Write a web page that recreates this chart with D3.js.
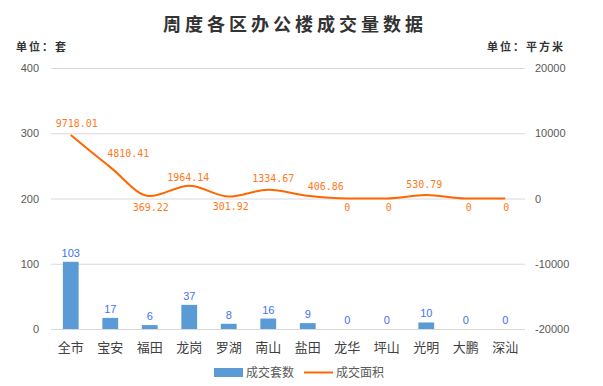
<!DOCTYPE html>
<html>
<head>
<meta charset="utf-8">
<script src="https://cdn.jsdelivr.net/npm/d3@7"></script>
<style>
    body { margin: 0; background: #fff; }
    svg { display: block; }
</style>
</head>
<body>
<svg id="chart" width="603" height="386"></svg>
<script>
const districts = ['全市', '宝安', '福田', '龙岗', '罗湖', '南山', '盐田', '龙华', '坪山', '光明', '大鹏', '深汕']
const units = [103, 17, 6, 37, 8, 16, 9, 0, 0, 10, 0, 0]
const area = [9718.01, 4810.41, 369.22, 1964.14, 301.92, 1334.67, 406.86, 0, 0, 530.79, 0, 0]
const leftTicks = [0, 100, 200, 300, 400]
const rightTicks = [-20000, -10000, 0, 10000, 20000]

// hand-placed label offsets, as in the source chart
const areaLabelOffsets = [[6, -12], [18, -14], [1, 11], [-1, -8], [2, 10], [5, -11],
    [18, -9], [0, 9], [2, 9], [-2, -11], [3, 9], [1, 9]]

const svg = d3.select('#chart')
const plot = {left: 51, right: 525, top: 68, bottom: 329}

const x = d3.scaleBand()
    .domain(districts)
    .range([plot.left, plot.right])
    .paddingInner(0.6)
    .paddingOuter(0.3)
const yLeft = d3.scaleLinear().domain([0, 400]).range([plot.bottom, plot.top])
const yRight = d3.scaleLinear().domain([-20000, 20000]).range([plot.bottom, plot.top])

// title + units
svg.append('text')
    .attr('x', 295).attr('y', 31)
    .attr('text-anchor', 'middle')
    .style('font-family', '"Noto Sans CJK SC", sans-serif')
    .style('font-weight', 'bold')
    .style('font-size', '18px')
    .style('letter-spacing', '4px')
    .style('fill', '#333')
    .text('周度各区办公楼成交量数据')

svg.append('text')
    .attr('x', 16).attr('y', 51)
    .style('font-family', '"Noto Sans CJK SC", sans-serif')
    .style('font-weight', 'bold')
    .style('font-size', '11px')
    .style('letter-spacing', '2px')
    .style('fill', '#333')
    .text('单位：套')

svg.append('text')
    .attr('x', 487).attr('y', 51)
    .style('font-family', '"Noto Sans CJK SC", sans-serif')
    .style('font-weight', 'bold')
    .style('font-size', '11px')
    .style('letter-spacing', '2px')
    .style('fill', '#333')
    .text('单位：平方米')

// gridlines
svg.append('g')
    .selectAll('line')
    .data(leftTicks)
    .enter()
    .append('line')
    .attr('x1', plot.left).attr('x2', plot.right)
    .attr('y1', d => yLeft(d) + 0.5).attr('y2', d => yLeft(d) + 0.5)
    .attr('stroke', '#d9d9d9')
    .attr('stroke-width', 1)

// axes
const axisFont = g => {
    g.select('.domain').remove()
    g.selectAll('text')
        .style('font-family', '"Liberation Sans", Arial, sans-serif')
        .style('font-size', '11px')
        .style('fill', '#595959')
}

svg.append('g')
    .attr('transform', `translate(${plot.left - 8},0)`)
    .call(d3.axisLeft(yLeft).tickValues(leftTicks).tickSize(0).tickPadding(4))
    .call(axisFont)

svg.append('g')
    .attr('transform', `translate(${plot.right + 6},0)`)
    .call(d3.axisRight(yRight).tickValues(rightTicks).tickSize(0).tickPadding(4)
        .tickFormat(d => String(d)))
    .call(axisFont)

svg.append('g')
    .selectAll('text')
    .data(districts)
    .enter()
    .append('text')
    .attr('x', d => x(d) + x.bandwidth() / 2)
    .attr('y', 352)
    .attr('text-anchor', 'middle')
    .style('font-family', '"Noto Sans CJK SC", sans-serif')
    .style('font-size', '13px')
    .style('fill', '#404040')
    .text(d => d)

// bars
svg.append('g')
    .selectAll('rect')
    .data(units)
    .enter()
    .append('rect')
    .attr('x', (d, i) => x(districts[i]))
    .attr('y', d => yLeft(d))
    .attr('width', x.bandwidth())
    .attr('height', d => yLeft(0) - yLeft(d))
    .attr('fill', '#5b9bd5')

svg.append('g')
    .selectAll('text')
    .data(units)
    .enter()
    .append('text')
    .attr('x', (d, i) => x(districts[i]) + x.bandwidth() / 2)
    .attr('y', d => yLeft(d) - 5)
    .attr('text-anchor', 'middle')
    .style('font-family', '"Liberation Sans", Arial, sans-serif')
    .style('font-size', '11px')
    .style('fill', '#4472f0')
    .text(d => d)

// area line
const cx = i => x(districts[i]) + x.bandwidth() / 2
const line = d3.line()
    .x((d, i) => cx(i))
    .y(d => yRight(d))
    .curve(d3.curveMonotoneX)

svg.append('path')
    .datum(area)
    .attr('d', line)
    .attr('fill', 'none')
    .attr('stroke', '#ff6600')
    .attr('stroke-width', 2)

svg.append('g')
    .selectAll('text')
    .data(area)
    .enter()
    .append('text')
    .attr('x', (d, i) => cx(i) + areaLabelOffsets[i][0])
    .attr('y', (d, i) => yRight(d) + areaLabelOffsets[i][1])
    .attr('dy', '0.35em')
    .attr('text-anchor', 'middle')
    .style('font-family', '"DejaVu Sans Mono", monospace')
    .style('font-size', '10px')
    .style('fill', '#ff7a1a')
    .text(d => d === 0 ? '0' : d.toFixed(2))

// legend
const legend = svg.append('g')
    .style('font-family', '"Noto Sans CJK SC", sans-serif')
    .style('font-size', '12px')
    .style('fill', '#595959')

legend.append('rect')
    .attr('x', 214).attr('y', 368)
    .attr('width', 29).attr('height', 9)
    .attr('fill', '#5b9bd5')
legend.append('text')
    .attr('x', 246).attr('y', 377)
    .text('成交套数')
legend.append('line')
    .attr('x1', 304).attr('x2', 333)
    .attr('y1', 372.5).attr('y2', 372.5)
    .attr('stroke', '#ff6600')
    .attr('stroke-width', 2)
legend.append('text')
    .attr('x', 336).attr('y', 377)
    .text('成交面积')
</script>
</body>
</html>
